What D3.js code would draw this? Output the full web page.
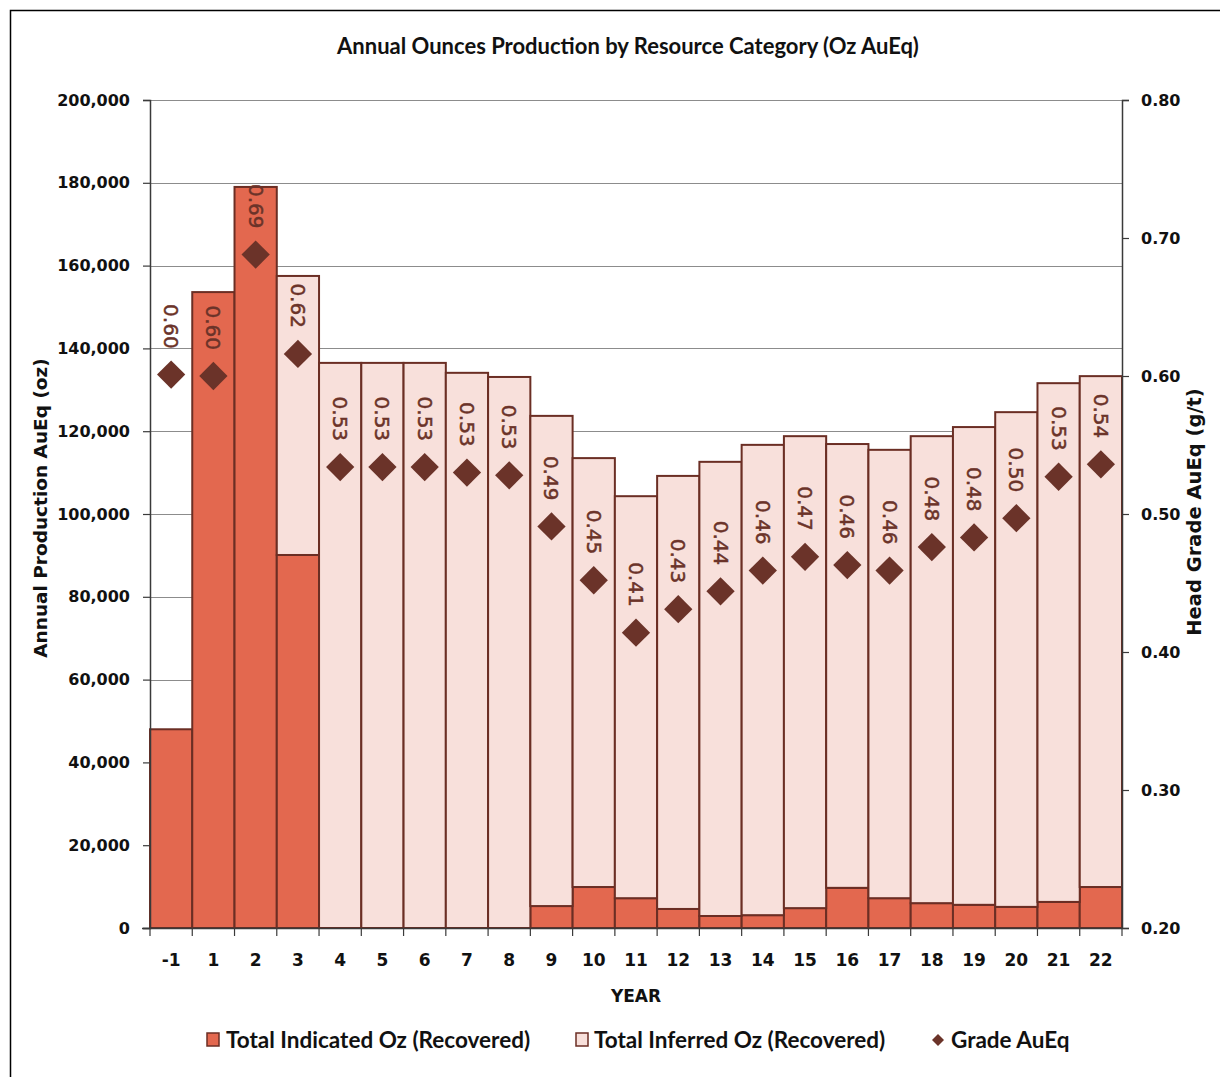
<!DOCTYPE html>
<html><head><meta charset="utf-8">
<script src="https://cdn.jsdelivr.net/npm/d3@7"></script>
<style>
html,body{margin:0;padding:0;background:#fff;}
svg{display:block;}
</style>
</head><body>
<svg id="chart" width="1220" height="1077"></svg>
<script>
const years = ["-1","1","2","3","4","5","6","7","8","9","10","11","12","13","14","15","16","17","18","19","20","21","22"];
const indicatedOz = [48000,153600,179000,90100,0,0,0,0,0,5300,9900,7200,4600,2900,3100,4800,9700,7200,6000,5600,5100,6300,9900];
const inferredOz = [0,0,0,67400,136500,136500,136500,134100,133100,118400,103600,97100,104600,109700,113600,114000,107200,108300,112800,115400,119500,125300,123400];
const gradeAuEq = [0.601,0.600,0.688,0.616,0.534,0.534,0.534,0.530,0.528,0.491,0.452,0.414,0.431,0.444,0.459,0.469,0.463,0.459,0.476,0.483,0.497,0.527,0.536];
const leftTicks = [0,20000,40000,60000,80000,100000,120000,140000,160000,180000,200000];
const rightTicks = [0.20,0.30,0.40,0.50,0.60,0.70,0.80];

const C_IND = "#E3684F", C_INF = "#F8E0DB", C_EDGE = "#6B2E24", C_MARK = "#6B3329";
const svg = d3.select("#chart");
const m = {l:150, r:1122, t:100, b:928};

// outer frame
svg.append("path").attr("d", `M10.5,1090 V10.5 H1230`).attr("fill","none").attr("stroke","#000").attr("stroke-width",1.5);

const x = d3.scaleBand().domain(years).range([m.l, m.r]).padding(0);
const y = d3.scaleLinear().domain([0,200000]).range([m.b, m.t]);
const y2 = d3.scaleLinear().domain([0.2,0.8]).range([m.b, m.t]);

// gridlines
svg.append("g").selectAll("line").data(leftTicks.filter(d=>d>0)).join("line")
  .attr("x1", m.l).attr("x2", m.r)
  .attr("y1", d=>Math.round(y(d))+0.5).attr("y2", d=>Math.round(y(d))+0.5)
  .attr("stroke","#8c8c8c").attr("stroke-width",1);

// bars
const rows = years.map((yr,i)=>({yr, ind:indicatedOz[i], inf:inferredOz[i], g:gradeAuEq[i]}));
const bars = svg.append("g");
bars.selectAll("rect.ind").data(rows.filter(d=>d.ind>0)).join("rect").attr("class","ind")
  .attr("x", d=>x(d.yr)).attr("width", x.bandwidth())
  .attr("y", d=>y(d.ind)).attr("height", d=>y(0)-y(d.ind))
  .attr("fill", C_IND).attr("stroke", C_EDGE).attr("stroke-width",2);
bars.selectAll("rect.inf").data(rows.filter(d=>d.inf>0)).join("rect").attr("class","inf")
  .attr("x", d=>x(d.yr)).attr("width", x.bandwidth())
  .attr("y", d=>y(d.ind+d.inf)).attr("height", d=>y(d.ind)-y(d.ind+d.inf))
  .attr("fill", C_INF).attr("stroke", C_EDGE).attr("stroke-width",2);

// axes
const fmt = d3.format(",");
const axL = svg.append("g").attr("transform",`translate(${m.l},0)`)
  .call(d3.axisLeft(y).tickValues(leftTicks).tickFormat(fmt).tickSize(7).tickPadding(13));
const axR = svg.append("g").attr("transform",`translate(${m.r},0)`)
  .call(d3.axisRight(y2).tickValues(rightTicks).tickFormat(d3.format(".2f")).tickSize(7).tickPadding(12));
const axB = svg.append("g").attr("transform",`translate(0,${m.b})`)
  .call(d3.axisBottom(x).tickSize(0).tickPadding(26));
[axL,axR,axB].forEach(a=>{
  a.select(".domain").attr("stroke","#3a3a3a").attr("stroke-width",1.5);
  a.selectAll(".tick line").attr("stroke","#3a3a3a").attr("stroke-width",1.2);
  a.selectAll("text").attr("font-family","DejaVu Sans, Verdana, sans-serif").attr("font-weight","bold").attr("font-size","16px").attr("fill","#111");
});
axB.select(".domain").attr("d", `M${m.l-8},0.5H${m.r}`);
axB.selectAll("text").attr("font-size","17px");
// category boundary ticks on bottom axis
svg.append("g").selectAll("line").data(years.concat(["end"])).join("line")
  .attr("x1",(d,i)=> i<years.length ? x(d) : m.r).attr("x2",(d,i)=> i<years.length ? x(d) : m.r)
  .attr("y1", m.b).attr("y2", m.b+8).attr("stroke","#3a3a3a").attr("stroke-width",1.2);

// grade markers
const diamond = d3.symbol().type(d3.symbolSquare).size(400);
svg.append("g").selectAll("path").data(rows).join("path")
  .attr("d", diamond)
  .attr("transform", d=>`translate(${x(d.yr)+x.bandwidth()/2},${y2(d.g)}) rotate(45)`)
  .attr("fill", C_MARK);

// grade labels
svg.append("g").selectAll("text").data(rows).join("text")
  .attr("transform", d=>`translate(${x(d.yr)+x.bandwidth()/2},${y2(d.g)-26}) rotate(90)`)
  .attr("text-anchor","end").attr("dominant-baseline","central")
  .attr("font-family","DejaVu Sans, Verdana, sans-serif").attr("font-size","20px")
  .attr("fill", C_MARK).attr("stroke", C_MARK).attr("stroke-width",0.5)
  .text(d=>d.g.toFixed(2));

// titles
svg.append("text").attr("x",628).attr("y",54).attr("text-anchor","middle")
  .attr("font-family","Lato, sans-serif").attr("font-weight","bold").attr("font-size","22px").attr("fill","#111")
  .text("Annual Ounces Production by Resource Category (Oz AuEq)");
svg.append("text").attr("transform","translate(47,508) rotate(-90)").attr("text-anchor","middle")
  .attr("font-family","DejaVu Sans, sans-serif").attr("font-weight","bold").attr("font-size","18.5px").attr("fill","#111")
  .text("Annual Production AuEq (oz)");
svg.append("text").attr("transform","translate(1201,512) rotate(-90)").attr("text-anchor","middle")
  .attr("font-family","DejaVu Sans, sans-serif").attr("font-weight","bold").attr("font-size","19.5px").attr("fill","#111")
  .text("Head Grade AuEq (g/t)");
svg.append("text").attr("x",636).attr("y",1002).attr("text-anchor","middle")
  .attr("font-family","DejaVu Sans, sans-serif").attr("font-weight","bold").attr("font-size","17px").attr("fill","#111")
  .text("YEAR");

// legend
const leg = svg.append("g").attr("font-family","Lato, sans-serif").attr("font-weight","bold").attr("font-size","22.5px").attr("fill","#111");
leg.append("rect").attr("x",207).attr("y",1033).attr("width",12).attr("height",13).attr("fill",C_IND).attr("stroke",C_EDGE).attr("stroke-width",1.5);
leg.append("text").attr("x",226).attr("y",1048).text("Total Indicated Oz (Recovered)");
leg.append("rect").attr("x",576).attr("y",1033).attr("width",12).attr("height",13).attr("fill",C_INF).attr("stroke",C_EDGE).attr("stroke-width",1.5);
leg.append("text").attr("x",594).attr("y",1048).text("Total Inferred Oz (Recovered)");
leg.append("path").attr("d", d3.symbol().type(d3.symbolSquare).size(72)).attr("transform","translate(938,1040) rotate(45)").attr("fill",C_MARK);
leg.append("text").attr("x",951).attr("y",1048).text("Grade AuEq");
</script>
</body></html>
